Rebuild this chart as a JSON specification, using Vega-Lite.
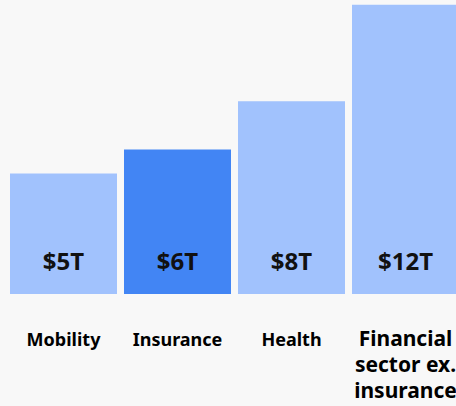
{
  "$schema": "https://vega.github.io/schema/vega-lite/v6.json",
  "width": 456,
  "height": 294,
  "autosize": {"type": "none"},
  "padding": {"left": 6.5, "top": 0, "right": 0, "bottom": 112},
  "background": "#f8f8f8",
  "config": {"view": {"stroke": null}, "font": "Noto Sans"},
  "data": {
    "values": [
      {"sector": "Mobility", "value": 5, "label": "$5T", "highlight": "no"},
      {"sector": "Insurance", "value": 6, "label": "$6T", "highlight": "yes"},
      {"sector": "Health", "value": 8, "label": "$8T", "highlight": "no"},
      {"sector": "Financial sector ex. insurance", "value": 12, "label": "$12T", "highlight": "no"}
    ]
  },
  "encoding": {
    "x": {
      "field": "sector",
      "type": "nominal",
      "sort": null,
      "scale": {"paddingInner": 0.0614, "paddingOuter": 0.0307},
      "axis": {
        "title": null,
        "domain": false,
        "ticks": false,
        "tickSize": 0,
        "grid": false,
        "labelAngle": 0,
        "labelBaseline": "alphabetic",
        "labelPadding": 51,
        "labelFont": "Noto Sans",
        "labelFontWeight": "bold",
        "labelColor": "#000000",
        "labelLineHeight": 26,
        "labelFontSize": {"condition": {"test": "datum.value == 'Financial sector ex. insurance'", "value": 21}, "value": 18},
        "labelExpr": "datum.value == 'Financial sector ex. insurance' ? ['Financial', 'sector ex.', 'insurance'] : datum.value",
        "labelOverlap": false,
        "labelLimit": 0
      }
    }
  },
  "layer": [
    {
      "mark": {"type": "bar"},
      "encoding": {
        "y": {"field": "value", "type": "quantitative", "scale": {"domain": [0, 12.2], "nice": false}, "axis": null},
        "color": {
          "field": "highlight",
          "type": "nominal",
          "scale": {"domain": ["no", "yes"], "range": ["#a1c2fd", "#4285f4"]},
          "legend": null
        }
      }
    },
    {
      "mark": {"type": "text", "baseline": "alphabetic", "dy": -24, "fontSize": 24, "fontWeight": "bold", "color": "#111111", "font": "Noto Sans"},
      "encoding": {
        "y": {"datum": 0, "type": "quantitative"},
        "text": {"field": "label"}
      }
    }
  ]
}
